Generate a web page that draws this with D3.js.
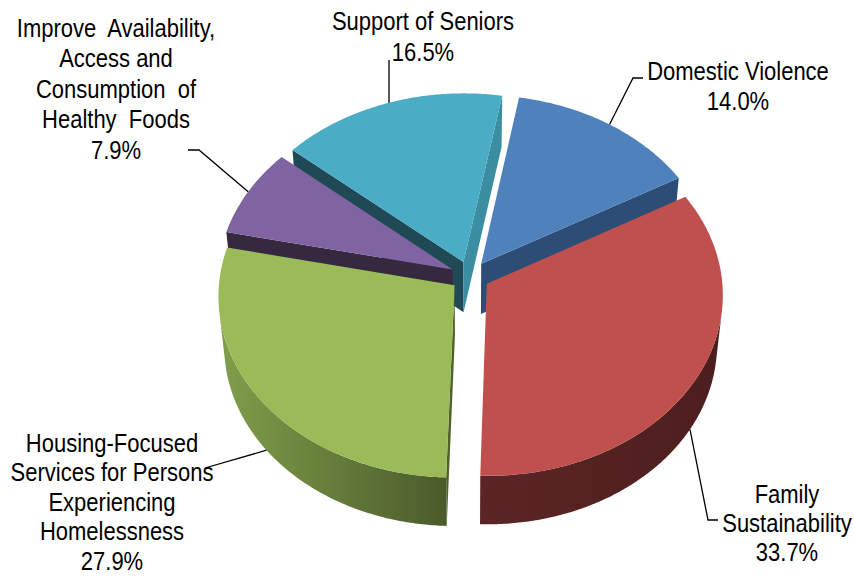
<!DOCTYPE html>
<html>
<head>
<meta charset="utf-8">
<script src="https://cdn.jsdelivr.net/npm/d3@7"></script>
<style>
  body { margin: 0; background: #fff; }
  text { font-family: "Liberation Sans", Arial, sans-serif; font-size: 25px; fill: #000; }
</style>
</head>
<body>
<div id="chart"></div>
<script>
// Data

const categories = ["Domestic Violence", "Family Sustainability",
  "Housing-Focused Services for Persons Experiencing Homelessness",
  "Improve Availability, Access and Consumption of Healthy Foods",
  "Support of Seniors"];
const values = [14.0, 33.7, 27.9, 7.9, 16.5];
const labelLines = [
  ["Domestic Violence"],
  ["Family", "Sustainability"],
  ["Housing-Focused", "Services for Persons", "Experiencing", "Homelessness"],
  ["Improve  Availability,", "Access and", "Consumption  of", "Healthy  Foods"],
  ["Support of Seniors"]
];
const topColors = ["#4f81bd", "#c0504d", "#9bbb59", "#8064a2", "#4bacc6"];
const cutColors = [["#2c4d75", "#2c4d75"], ["#5a2424", "#5a2424"], ["#4f6228", "#4f6228"],
  ["#35283f", "#35283f"], ["#1f4a55", "#3b8da1"]];
const wallColors = [["#2c4d75", "#2c4d75"], ["#5c2525", "#4d1e1e"], ["#809f4b", "#4a5a2a"],
  ["#35283f", "#35283f"], ["#1f4a55", "#1f4a55"]];

// label layout (center x, first baseline y, line gap, leader bend points)
const labelLayout = [
  { x: 738, y: 80, gap: 30, leader: [[633, 78], [643, 78]] },
  { x: 787, y: 503, gap: 29, leader: [[708, 520], [718, 520]] },
  { x: 112, y: 452, gap: 29.5, leader: [[205, 468]] },
  { x: 116, y: 37, gap: 30.5, leader: [[199, 150], [188, 150]] },
  { x: 423, y: 30, gap: 31, leader: [[389, 60]] }
];

const width = 854, height = 577;
const narrow = 0.88;

// 3D view set-up
const sinA = 0.766, cosA = 0.643, D = 11.06, H = 0.34, EXPLODE = 0.083;
const startAngle = 10 * Math.PI / 180;

const x = d3.scaleLinear().domain([-1, 1]).range([470 - 235, 470 + 235]);
const y = d3.scaleLinear().domain([-1, 1]).range([276 - 235, 276 + 235]);

function proj(X, Y, Z) {
  const yr = Z * sinA - Y * cosA;
  const dep = D - (Z * cosA + Y * sinA);
  const s = D / dep;
  return [x(X * s), y(yr * s)];
}

const svg = d3.select("#chart")
  .append("svg")
    .attr("width", width)
    .attr("height", height);

const defs = svg.append("defs");

const pie = d3.pie()
  .sort(null)
  .value(d => d)
  .startAngle(startAngle)
  .endAngle(startAngle + 2 * Math.PI);

const arcs = pie(values).map((a, i) => {
  const m = (a.startAngle + a.endAngle) / 2;
  return { ...a, i, m, ox: EXPLODE * Math.sin(m), oz: -EXPLODE * Math.cos(m) };
});

const line = d3.line();

function samples(a0, a1) {
  const n = Math.max(2, Math.ceil((a1 - a0) / 0.01));
  return d3.range(n + 1).map(k => a0 + (a1 - a0) * k / n);
}

// back to front
const order = arcs.slice().sort((a, b) => (-Math.cos(a.m)) - (-Math.cos(b.m)));

order.forEach(a => {
  const i = a.i;
  const pt = (t, Y) => proj(a.ox + Math.sin(t), Y, a.oz - Math.cos(t));
  const apex = Y => proj(a.ox, Y, a.oz);
  const g = svg.append("g");
  const cz = D * cosA - a.oz;

  // cut faces
  const a0 = a.startAngle, a1 = a.endAngle;
  const vis0 = a.ox * Math.cos(a0) - Math.sin(a0) * cz;
  const vis1 = -a.ox * Math.cos(a1) + Math.sin(a1) * cz;
  if (vis0 > 0) {
    g.append("path")
      .attr("d", line([apex(0), pt(a0, 0), pt(a0, -H), apex(-H)]) + "Z")
      .attr("fill", cutColors[i][0]);
  }
  if (vis1 > 0) {
    g.append("path")
      .attr("d", line([apex(0), pt(a1, 0), pt(a1, -H), apex(-H)]) + "Z")
      .attr("fill", cutColors[i][1]);
  }

  // outer wall, visible part only
  const ts = samples(a0, a1).filter(t => -1 - a.ox * Math.sin(t) + (a.oz - D * cosA) * Math.cos(t) > 0);
  if (ts.length > 1) {
    const gid = "wall" + i;
    const grad = defs.append("linearGradient").attr("id", gid)
      .attr("x1", "0%").attr("x2", "100%").attr("y1", "0%").attr("y2", "0%");
    grad.append("stop").attr("offset", "0%").attr("stop-color", wallColors[i][0]);
    grad.append("stop").attr("offset", "100%").attr("stop-color", wallColors[i][1]);
    const pts = ts.map(t => pt(t, 0)).concat(ts.slice().reverse().map(t => pt(t, -H)));
    g.append("path")
      .attr("d", line(pts) + "Z")
      .attr("fill", `url(#${gid})`);
  }

  // top face
  const topPts = [apex(0)].concat(samples(a0, a1).map(t => pt(t, 0)));
  g.append("path")
    .attr("d", line(topPts) + "Z")
    .attr("fill", topColors[i]);
});

// labels and leader lines
arcs.forEach(a => {
  const i = a.i;
  const lay = labelLayout[i];
  const back = Math.cos(a.m) > 0;
  const anchor = proj(a.ox + Math.sin(a.m), back ? 0 : -H, a.oz - Math.cos(a.m));

  svg.append("path")
    .attr("d", line([anchor].concat(lay.leader)))
    .attr("fill", "none")
    .attr("stroke", "#000")
    .attr("stroke-width", 1.3);

  const lines = labelLines[i].concat([d3.format(".1f")(values[i]) + "%"]);
  const text = svg.append("g")
      .attr("transform", `translate(${lay.x},0) scale(${narrow},1)`)
    .append("text")
      .attr("text-anchor", "middle")
      .style("white-space", "pre");
  lines.forEach((l, k) => {
    text.append("tspan")
      .attr("x", 0)
      .attr("y", lay.y + k * lay.gap)
      .text(l);
  });
});
</script>
</body>
</html>
